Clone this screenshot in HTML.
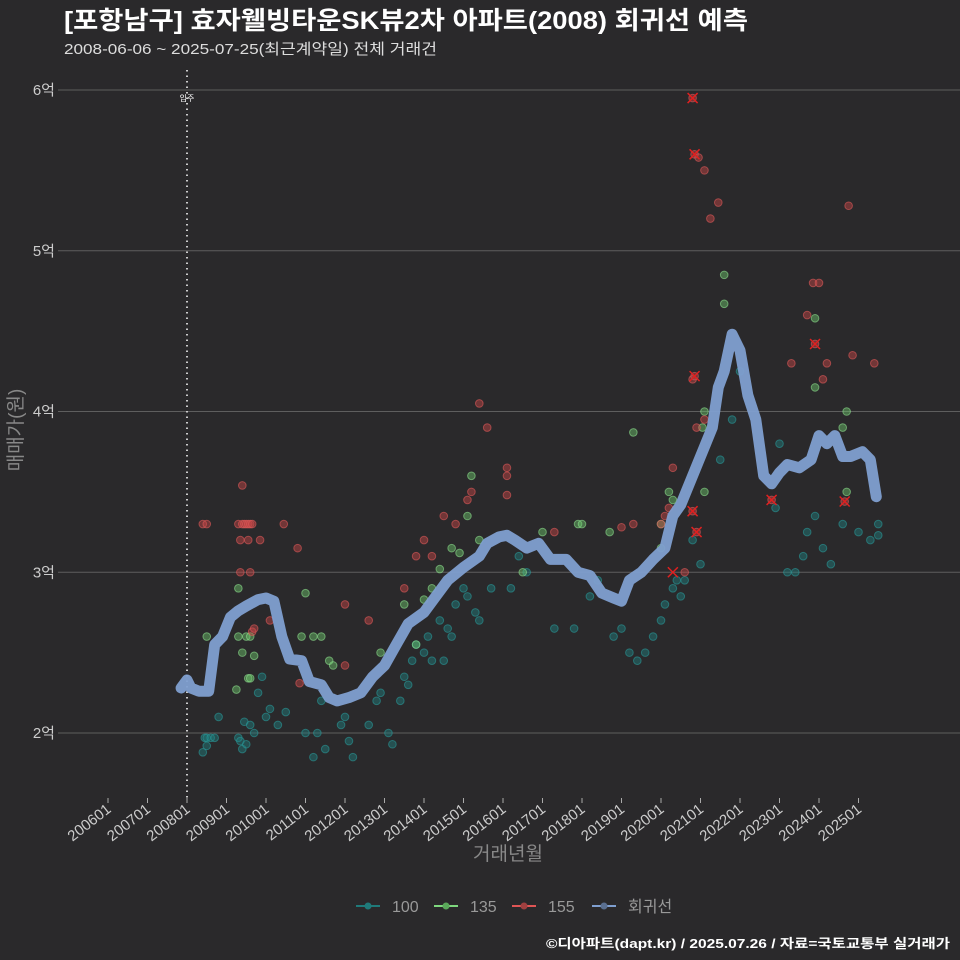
<!DOCTYPE html>
<html><head><meta charset="utf-8"><style>
html,body{margin:0;background:#2a292b;overflow:hidden;width:960px;height:960px;}
svg{display:block;}
svg text{font-family:"Liberation Sans","Noto Sans CJK KR",sans-serif;}
</style></head><body>
<svg id="c" width="960" height="960" xmlns="http://www.w3.org/2000/svg">
<rect width="960" height="960" fill="#2a292b"/>
<text x="64" y="29" fill="#fff" font-size="25" font-weight="bold" textLength="684" lengthAdjust="spacingAndGlyphs">[포항남구] 효자웰빙타운SK뷰2차 아파트(2008) 회귀선 예측</text>
<text x="64" y="54" fill="#ddd" font-size="15" textLength="373" lengthAdjust="spacingAndGlyphs">2008-06-06 ~ 2025-07-25(최근계약일) 전체 거래건</text>
<text transform="translate(22,430) rotate(-90)" text-anchor="middle" fill="#888" font-size="19">매매가(원)</text>
<text x="508" y="860" text-anchor="middle" fill="#888" font-size="19">거래년월</text>
<g id="grid"></g><g id="pts"></g><g id="line"></g><g id="xt"></g>
<g font-size="16" fill="#999">
<g><line x1="356" y1="906" x2="380" y2="906" stroke="#1f7a7a" stroke-width="2"/><circle cx="368" cy="906" r="3.5" fill="#1f7a7a"/><text x="392" y="912">100</text></g>
<g><line x1="434" y1="906" x2="458" y2="906" stroke="#7ed87e" stroke-width="2"/><circle cx="446" cy="906" r="3.5" fill="#5aa85a"/><text x="470" y="912">135</text></g>
<g><line x1="512" y1="906" x2="536" y2="906" stroke="#e05555" stroke-width="2"/><circle cx="524" cy="906" r="3.5" fill="#a04040"/><text x="548" y="912">155</text></g>
<g><line x1="592" y1="906" x2="616" y2="906" stroke="#7f9fd0" stroke-width="2"/><circle cx="604" cy="906" r="3.5" fill="#5a6f90"/><text x="628" y="912">회귀선</text></g>
</g>
<text x="546" y="948" fill="#fff" font-size="13" font-weight="bold" textLength="404" lengthAdjust="spacingAndGlyphs">©디아파트(dapt.kr) / 2025.07.26 / 자료=국토교통부 실거래가</text>
</svg>
<script>
const yTicks=[2,3,4,5,6];
const xTickYears=[2006,2007,2008,2009,2010,2011,2012,2013,2014,2015,2016,2017,2018,2019,2020,2021,2022,2023,2024,2025];
const moveInYear=2008.0;
const regYears=[2007.85,2008.0,2008.1,2008.3,2008.55,2008.7,2008.9,2009.1,2009.3,2009.5,2009.8,2010.0,2010.2,2010.4,2010.6,2010.9,2011.1,2011.4,2011.6,2011.8,2012.1,2012.4,2012.7,2013.0,2013.3,2013.6,2014.0,2014.3,2014.6,2015.0,2015.4,2015.6,2015.9,2016.1,2016.3,2016.6,2016.9,2017.2,2017.6,2017.9,2018.2,2018.5,2018.8,2019.0,2019.2,2019.5,2019.8,2020.1,2020.3,2020.5,2020.8,2021.1,2021.3,2021.45,2021.6,2021.8,2022.0,2022.2,2022.4,2022.6,2022.8,2023.0,2023.2,2023.5,2023.8,2024.0,2024.2,2024.4,2024.6,2024.8,2025.1,2025.3,2025.45];
const regValues=[2.28,2.33,2.28,2.26,2.26,2.55,2.6,2.72,2.76,2.79,2.83,2.84,2.82,2.6,2.46,2.45,2.32,2.3,2.22,2.2,2.22,2.25,2.35,2.42,2.55,2.68,2.75,2.85,2.95,3.03,3.1,3.18,3.22,3.23,3.2,3.15,3.18,3.08,3.08,3.0,2.98,2.87,2.84,2.82,2.95,3.0,3.08,3.15,3.35,3.42,3.6,3.78,3.9,4.15,4.25,4.48,4.38,4.1,3.95,3.6,3.55,3.62,3.67,3.65,3.7,3.85,3.8,3.85,3.72,3.72,3.75,3.7,3.47];
const s100Years=[2008.45,2008.5,2008.6,2008.7,2008.8,2008.4,2008.5,2009.3,2009.4,2009.5,2009.45,2009.35,2009.6,2009.7,2009.8,2009.9,2010.0,2010.1,2010.3,2010.5,2011.0,2011.3,2011.5,2011.2,2011.4,2011.9,2012.0,2012.2,2012.1,2012.6,2012.8,2012.9,2013.1,2013.2,2013.4,2013.5,2013.6,2013.7,2013.8,2014.0,2014.1,2014.2,2014.4,2014.5,2014.6,2014.7,2014.8,2015.0,2015.1,2015.3,2015.4,2015.7,2016.2,2016.4,2016.6,2017.3,2017.8,2018.2,2018.4,2018.8,2019.0,2019.2,2019.4,2019.6,2019.8,2020.0,2020.1,2020.3,2020.4,2020.5,2020.6,2020.8,2021.0,2021.5,2021.8,2022.0,2022.9,2023.0,2023.2,2023.4,2023.6,2023.7,2023.9,2024.1,2024.3,2024.6,2025.0,2025.3,2025.5,2025.5];
const s100Values=[1.97,1.97,1.97,1.97,2.1,1.88,1.92,1.97,1.9,1.93,2.07,1.95,2.05,2.0,2.25,2.35,2.1,2.15,2.05,2.13,2.0,2.0,1.9,1.85,2.2,2.05,2.1,1.85,1.95,2.05,2.2,2.25,2.0,1.93,2.2,2.35,2.3,2.45,2.55,2.5,2.6,2.45,2.7,2.45,2.65,2.6,2.8,2.9,2.85,2.75,2.7,2.9,2.9,3.1,3.0,2.65,2.65,2.85,2.95,2.6,2.65,2.5,2.45,2.5,2.6,2.7,2.8,2.9,2.95,2.85,2.95,3.2,3.05,3.7,3.95,4.25,3.4,3.8,3.0,3.0,3.1,3.25,3.35,3.15,3.05,3.3,3.25,3.2,3.3,3.23];
const s135Years=[2008.5,2009.3,2009.3,2009.5,2009.6,2009.55,2009.6,2009.7,2009.25,2009.4,2010.9,2011.2,2011.4,2011.0,2011.6,2011.7,2012.9,2013.5,2013.8,2014.0,2014.2,2014.4,2014.7,2014.9,2015.1,2015.2,2015.4,2016.5,2017.0,2017.9,2018.0,2018.7,2019.3,2020.0,2020.2,2020.3,2020.0,2021.05,2021.1,2021.1,2021.6,2021.6,2023.9,2023.9,2024.6,2024.7,2024.7];
const s135Values=[2.6,2.9,2.6,2.6,2.6,2.34,2.34,2.48,2.27,2.5,2.6,2.6,2.6,2.87,2.45,2.42,2.5,2.8,2.55,2.83,2.9,3.02,3.15,3.12,3.35,3.6,3.2,3.0,3.25,3.3,3.3,3.25,3.87,3.3,3.5,3.45,3.15,3.9,4.0,3.5,4.67,4.85,4.58,4.15,3.9,4.0,3.5];
const s155Years=[2008.4,2008.5,2009.3,2009.4,2009.45,2009.5,2009.55,2009.6,2009.65,2009.35,2009.55,2009.4,2009.35,2009.6,2009.85,2010.45,2010.8,2009.65,2009.7,2010.1,2010.85,2012.0,2012.0,2012.6,2013.5,2013.8,2014.0,2014.2,2014.5,2014.8,2015.1,2015.2,2015.4,2015.6,2016.1,2016.1,2016.1,2017.3,2019.0,2019.3,2020.0,2020.1,2020.2,2020.3,2020.6,2020.8,2020.9,2021.1,2020.8,2020.85,2020.95,2021.1,2021.25,2021.45,2020.85,2020.8,2020.9,2022.8,2023.3,2023.7,2023.85,2024.0,2023.9,2024.1,2024.2,2024.65,2024.75,2024.85,2025.4];
const s155Values=[3.3,3.3,3.3,3.3,3.3,3.3,3.3,3.3,3.3,3.2,3.2,3.54,3.0,3.0,3.2,3.3,3.15,2.63,2.65,2.7,2.31,2.8,2.42,2.7,2.9,3.1,3.2,3.1,3.35,3.3,3.45,3.5,4.05,3.9,3.6,3.65,3.48,3.25,3.28,3.3,3.3,3.35,3.4,3.65,3.0,4.2,3.9,3.95,5.95,5.6,5.58,5.5,5.2,5.3,4.22,3.38,3.25,3.45,4.3,4.6,4.8,4.8,4.42,4.2,4.3,3.44,5.28,4.35,4.3];
const markYears=[2020.8,2020.85,2020.85,2020.8,2020.9,2020.3,2022.8,2023.9,2024.65];
const markValues=[5.95,5.6,4.22,3.38,3.25,3.0,3.45,4.42,3.44];

const NS="http://www.w3.org/2000/svg";
const X=y=>108+(y-2006)*39.5;
const Y=v=>733-(v-2)*160.75;
function mk(t,a,p){const e=document.createElementNS(NS,t);for(const k in a)e.setAttribute(k,a[k]);p.appendChild(e);return e;}
const grid=document.getElementById('grid');
yTicks.forEach(v=>{
  const l=mk('line',{x1:58,x2:960,y1:Y(v),y2:Y(v),stroke:'#5e5e5e','stroke-width':1},grid);
  
  
  const t=mk('text',{x:55,y:Y(v)+5,'text-anchor':'end',fill:'#ccc','font-size':15},grid);
  
  
  t.textContent=v+'억';
});
const ml=mk('line',{x1:X(moveInYear),x2:X(moveInYear),y1:70,y2:800,stroke:'#ccc','stroke-width':2,'stroke-dasharray':'1.5 4'},grid);


const mt=mk('text',{x:X(moveInYear),y:101,'text-anchor':'middle',fill:'#fff','font-size':8},grid);


mt.textContent='입주';
const xt=document.getElementById('xt');
xTickYears.forEach(y=>{
  const x=X(y);
  const l=mk('line',{x1:x,x2:x,y1:798,y2:803,stroke:'#aaa'},xt);
  
  
  const t=mk('text',{transform:`translate(${x+4},${811}) rotate(-38)`,'text-anchor':'end',fill:'#ccc','font-size':15},xt);
  
  
  t.textContent=y+'01';
});
const pts=document.getElementById('pts');
function series(ys,vs,fill,stroke,name){
  ys.forEach((y,i)=>{
    const c=mk('circle',{cx:X(y),cy:Y(vs[i]),r:3.8,fill:fill,'fill-opacity':0.45,stroke:stroke,'stroke-opacity':0.6,'stroke-width':1},pts);
    
    
  });
}
series(s100Years,s100Values,'#1f8080','#2a9a9a','point-100');
series(s135Years,s135Values,'#6cc86c','#8ee08e','point-135');
series(s155Years,s155Values,'#c84848','#e05a5a','point-155');
markYears.forEach((y,i)=>{
  const x=X(y),v=Y(markValues[i]);
  const g=mk('path',{d:`M${x-5},${v-5}L${x+5},${v+5}M${x-5},${v+5}L${x+5},${v-5}`,stroke:'#e02020','stroke-width':1.5},pts);
  
  
});
const line=document.getElementById('line');
const d=regYears.map((y,i)=>(i?'L':'M')+X(y).toFixed(1)+','+Y(regValues[i]).toFixed(1)).join('');
const p=mk('path',{d:d,fill:'none',stroke:'#7f9fd0','stroke-width':11,'stroke-linejoin':'round','stroke-linecap':'round','stroke-opacity':0.95},line);


</script>
</body></html>
